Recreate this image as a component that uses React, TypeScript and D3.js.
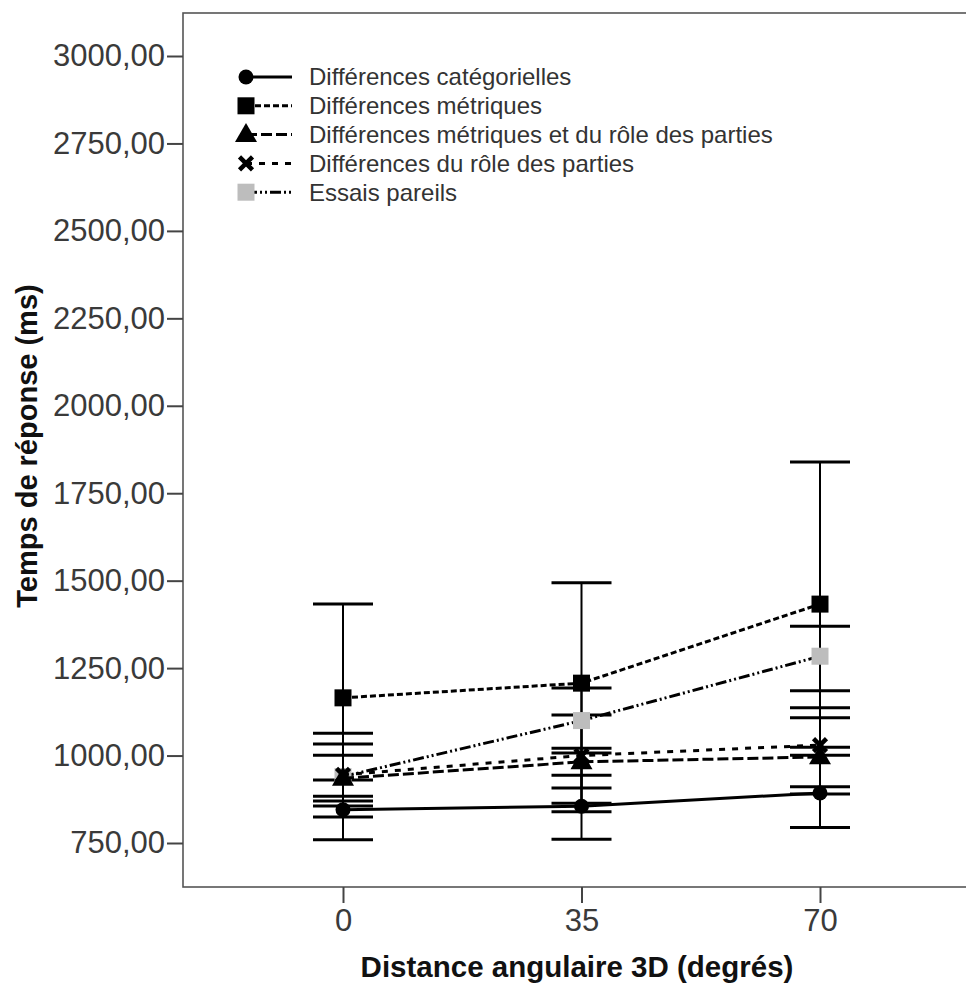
import React, { useEffect, useRef } from 'react';
import * as d3 from 'd3';

// distances on the x axis
const distances = [0, 35, 70];
const yTicks = [750, 1000, 1250, 1500, 1750, 2000, 2250, 2500, 2750, 3000];

// mean + error bar bounds per condition
const categMean = [845, 855, 893];
const categLow = [759, 761, 794];
const categHigh = [930, 944, 1001];

const metricMean = [1165, 1207, 1433];
const metricLow = [884, 907, 1024];
const metricHigh = [1433, 1494, 1839];

const metricRoleMean = [935, 982, 996];
const metricRoleLow = [870, 839, 890];
const metricRoleHigh = [1001, 1116, 1108];

const roleMean = [945, 1000, 1030];
const roleLow = [856, 864, 911];
const roleHigh = [1033, 1021, 1137];

const sameMean = [940, 1100, 1284];
const sameLow = [824, 1007, 1185];
const sameHigh = [1064, 1193, 1370];

const seriesNames = [
  'Différences catégorielles',
  'Différences métriques',
  'Différences métriques et du rôle des parties',
  'Différences du rôle des parties',
  'Essais pareils',
];

const series = [
  { name: seriesNames[0], mean: categMean, low: categLow, high: categHigh, marker: 'circle', dash: null, fill: '#000' },
  { name: seriesNames[1], mean: metricMean, low: metricLow, high: metricHigh, marker: 'square', dash: '6,3', fill: '#000' },
  { name: seriesNames[2], mean: metricRoleMean, low: metricRoleLow, high: metricRoleHigh, marker: 'triangle', dash: '11,4', fill: '#000' },
  { name: seriesNames[3], mean: roleMean, low: roleLow, high: roleHigh, marker: 'cross', dash: '6,7', fill: '#000' },
  { name: seriesNames[4], mean: sameMean, low: sameLow, high: sameHigh, marker: 'square', dash: '11,3,2,3,2,3', fill: '#bdbdbd' },
];

// order in which they get painted (last on top)
const drawOrder = [4, 3, 1, 2, 0];

const W = 966;
const H = 983;
const FONT = '"Liberation Sans", Arial, sans-serif';

function drawMarker(g: any, kind: string, x: number, y: number, fill: string) {
  if (kind === 'circle') {
    g.append('circle').attr('cx', x).attr('cy', y).attr('r', 7.5).attr('fill', fill);
  } else if (kind === 'square') {
    g.append('rect').attr('x', x - 8.5).attr('y', y - 8.5).attr('width', 17).attr('height', 17).attr('fill', fill);
  } else if (kind === 'triangle') {
    g.append('path')
      .attr('d', d3.symbol().type(d3.symbolTriangle).size(210)())
      .attr('transform', `translate(${x},${y + 1})`)
      .attr('fill', fill);
  } else {
    g.append('path')
      .attr('d', `M${x - 6.5},${y - 6.5}L${x + 6.5},${y + 6.5}M${x + 6.5},${y - 6.5}L${x - 6.5},${y + 6.5}`)
      .attr('stroke', fill)
      .attr('stroke-width', 4.5);
  }
}

export default function App() {
  const ref = useRef<SVGSVGElement>(null);

  useEffect(() => {
    const svg = d3.select(ref.current);
    svg.selectAll('*').remove();

    const left = 183, top = 13, bottom = 887, right = 990;

    const x = d3.scaleLinear().domain([0, 70]).range([343, 820]);
    const y = d3.scaleLinear().domain([750, 3000]).range([843, 56]);

    // frame
    svg.append('rect')
      .attr('x', left).attr('y', top)
      .attr('width', right - left).attr('height', bottom - top)
      .attr('fill', 'none').attr('stroke', '#555').attr('stroke-width', 1.6);

    // y axis
    const yAxis = svg.append('g')
      .attr('transform', `translate(${left},0)`)
      .call(d3.axisLeft(y).tickValues(yTicks).tickSize(16).tickSizeOuter(0)
        .tickFormat((d: any) => d3.format('.2f')(d).replace('.', ',')));
    yAxis.select('.domain').remove();
    yAxis.selectAll('line').attr('stroke', '#444').attr('stroke-width', 2);
    yAxis.selectAll('text')
      .attr('x', -18)
      .attr('fill', '#3a3a3a')
      .style('font-family', FONT)
      .style('font-size', '31px');

    // x axis
    const xAxis = svg.append('g')
      .attr('transform', `translate(0,${bottom})`)
      .call(d3.axisBottom(x).tickValues(distances).tickSize(16).tickSizeOuter(0));
    xAxis.select('.domain').remove();
    xAxis.selectAll('line').attr('stroke', '#444').attr('stroke-width', 2);
    xAxis.selectAll('text')
      .attr('y', 22)
      .attr('fill', '#3a3a3a')
      .style('font-family', FONT)
      .style('font-size', '31px');

    // axis titles
    svg.append('text')
      .attr('x', 577).attr('y', 977)
      .attr('text-anchor', 'middle')
      .style('font-family', FONT).style('font-weight', 'bold').style('font-size', '29.5px')
      .attr('fill', '#111')
      .text('Distance angulaire 3D (degrés)');

    svg.append('text')
      .attr('transform', `translate(37,446) rotate(-90)`)
      .attr('text-anchor', 'middle')
      .style('font-family', FONT).style('font-weight', 'bold').style('font-size', '29px')
      .attr('fill', '#111')
      .text('Temps de réponse (ms)');

    // error bars
    const bars = svg.append('g');
    series.forEach(s => {
      distances.forEach((dist, i) => {
        const cx = x(dist);
        bars.append('line')
          .attr('x1', cx).attr('x2', cx)
          .attr('y1', y(s.low[i])).attr('y2', y(s.high[i]))
          .attr('stroke', '#000').attr('stroke-width', 2);
        [s.low[i], s.high[i]].forEach(v => {
          bars.append('line')
            .attr('x1', cx - 30).attr('x2', cx + 30)
            .attr('y1', y(v)).attr('y2', y(v))
            .attr('stroke', '#000').attr('stroke-width', 3);
        });
      });
    });

    // lines and markers
    const line = d3.line<number>().x((_, i) => x(distances[i])).y(d => y(d));
    drawOrder.forEach(k => {
      const s = series[k];
      const g = svg.append('g');
      g.append('path')
        .attr('d', line(s.mean))
        .attr('fill', 'none')
        .attr('stroke', '#000')
        .attr('stroke-width', 3)
        .attr('stroke-dasharray', s.dash);
      s.mean.forEach((v, i) => drawMarker(g, s.marker, x(distances[i]), y(v), s.fill));
    });

    // legend
    const legend = svg.append('g');
    series.forEach((s, i) => {
      const ly = 77 + i * 28.8;
      legend.append('line')
        .attr('x1', 246).attr('x2', 292)
        .attr('y1', ly).attr('y2', ly)
        .attr('stroke', '#000').attr('stroke-width', 3)
        .attr('stroke-dasharray', s.dash);
      drawMarker(legend, s.marker, 246, ly, s.fill);
      legend.append('text')
        .attr('x', 309).attr('y', ly)
        .attr('dy', '0.35em')
        .attr('fill', '#333')
        .style('font-family', FONT)
        .style('font-size', '24px')
        .text(s.name);
    });
  }, []);

  return (
    <svg
      ref={ref}
      width={W}
      height={H}
      style={{ position: 'absolute', left: 0, top: 0, background: '#fff' }}
    />
  );
}
